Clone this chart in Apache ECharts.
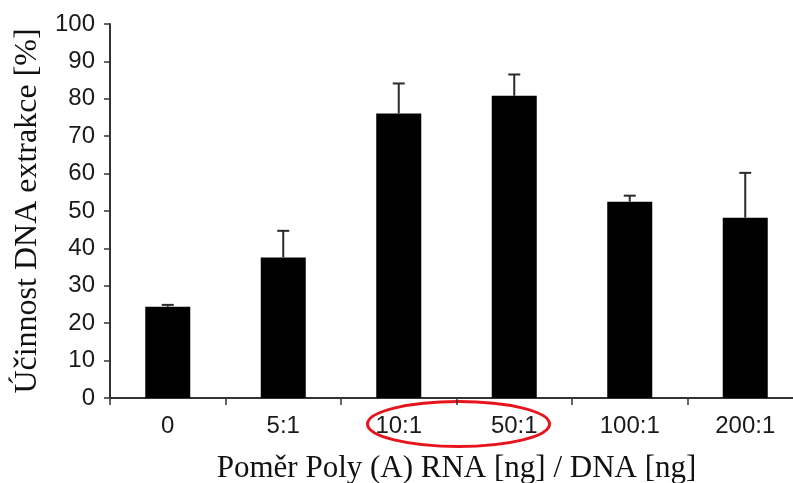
<!DOCTYPE html>
<html>
<head>
<meta charset="utf-8">
<style>
html,body{margin:0;padding:0;background:#fff;}
#c{width:793px;height:483px;}
</style>
<script src="https://cdn.jsdelivr.net/npm/echarts@6/dist/echarts.min.js"></script>
</head>
<body>
<div id="c"></div>
<script>
var categories = ['0', '5:1', '10:1', '50:1', '100:1', '200:1'];
var values = [24.4, 37.6, 76.1, 80.8, 52.5, 48.2];
var errors = [0.5, 7.1, 8.0, 5.7, 1.6, 12.0];
var yTicks = [0, 10, 20, 30, 40, 50, 60, 70, 80, 90, 100];
var yTitle = 'Účinnost DNA extrakce [%]';
var xTitle = 'Poměr Poly (A) RNA [ng] / DNA [ng]';
var highlighted = ['10:1', '50:1'];

var chart = echarts.init(document.getElementById('c'), null, {renderer: 'canvas'});
var errData = values.map(function (v, i) { return [i, v, v + errors[i]]; });

chart.setOption({
  animation: false,
  backgroundColor: '#ffffff',
  grid: {left: 110, top: 24, bottom: 85, width: 693, containLabel: false, outerBoundsMode: 'none'},
  xAxis: {
    type: 'category',
    data: categories,
    name: xTitle,
    nameLocation: 'middle',
    nameGap: 55,
    nameTextStyle: {fontFamily: 'Liberation Serif', fontSize: 31, color: '#111'},
    axisLine: {lineStyle: {color: '#333', width: 2}},
    axisTick: {show: true, length: 7, lineStyle: {color: '#333', width: 1.5}},
    axisLabel: {fontFamily: 'Liberation Sans', fontSize: 24, color: '#1a1a1a', margin: 16}
  },
  yAxis: {
    type: 'value',
    min: yTicks[0],
    max: yTicks[yTicks.length - 1],
    interval: 10,
    name: yTitle,
    nameLocation: 'middle',
    nameRotate: 90,
    nameGap: 58,
    nameTextStyle: {fontFamily: 'Liberation Serif', fontSize: 32, color: '#111'},
    splitLine: {show: false},
    axisLine: {show: true, lineStyle: {color: '#333', width: 2}},
    axisTick: {show: true, length: 6, lineStyle: {color: '#333', width: 1.5}},
    axisLabel: {fontFamily: 'Liberation Sans', fontSize: 24, color: '#1a1a1a', margin: 15}
  },
  series: [
    {
      type: 'bar',
      data: values,
      barWidth: 45,
      itemStyle: {color: '#000'},
      z: 2
    },
    {
      type: 'custom',
      data: errData,
      z: 3,
      renderItem: function (params, api) {
        var base = api.coord([api.value(0), api.value(1)]);
        var top = api.coord([api.value(0), api.value(2)]);
        var hw = 6;
        var st = {stroke: '#2a2a2a', lineWidth: 2};
        return {
          type: 'group',
          children: [
            {type: 'line', shape: {x1: base[0], y1: base[1], x2: top[0], y2: top[1]}, style: st},
            {type: 'line', shape: {x1: top[0] - hw, y1: top[1], x2: top[0] + hw, y2: top[1]}, style: st}
          ]
        };
      }
    }
  ]
});

var p1 = chart.convertToPixel({xAxisIndex: 0}, highlighted[0]);
var p2 = chart.convertToPixel({xAxisIndex: 0}, highlighted[1]);
var y0 = chart.convertToPixel({yAxisIndex: 0}, 0);
chart.setOption({
  graphic: [{
    type: 'ellipse',
    shape: {cx: (p1 + p2) / 2 + 2, cy: y0 + 26, rx: 91, ry: 22.5},
    style: {fill: 'none', stroke: '#e8141c', lineWidth: 3}
  }]
});
</script>
</body>
</html>
